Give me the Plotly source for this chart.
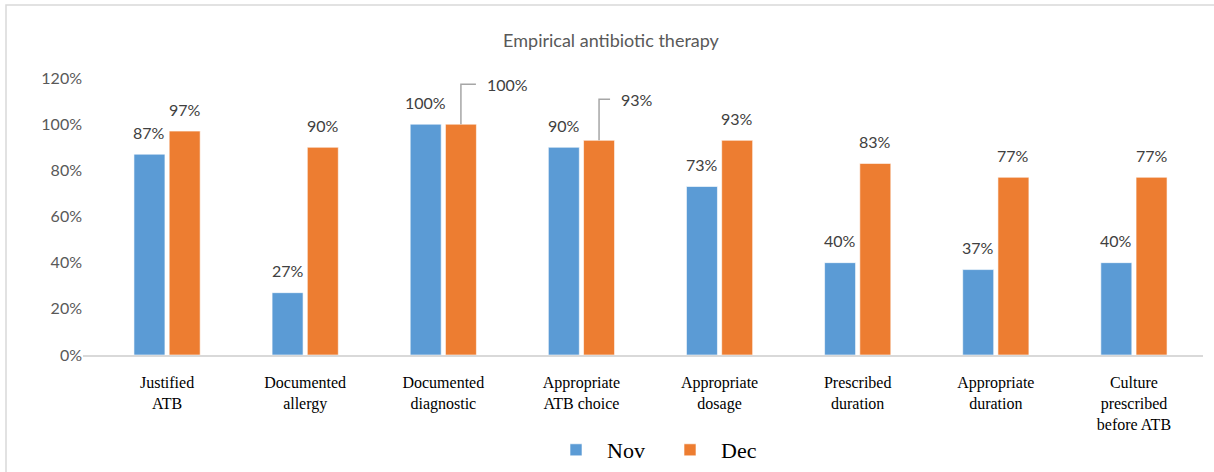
import plotly.graph_objects as go

# Audit indicators and monthly compliance rates (%)
categories = [
    "Justified<br>ATB",
    "Documented<br>allergy",
    "Documented<br>diagnostic",
    "Appropriate<br>ATB choice",
    "Appropriate<br>dosage",
    "Prescribed<br>duration",
    "Appropriate<br>duration",
    "Culture<br>prescribed<br>before ATB",
]
nov_values = [87, 27, 100, 90, 73, 40, 37, 40]
dec_values = [97, 90, 100, 93, 93, 83, 77, 77]
y_ticks = [0, 20, 40, 60, 80, 100, 120]

BLUE = "#5B9BD5"
ORANGE = "#ED7D31"
LABEL_GREY = "#404040"
AXIS_GREY = "#595959"
LINE_GREY = "#D9D9D9"

W, H = 1214, 472
M_L, M_R, M_T, M_B = 83, 11, 78, 117
PLOT_W = W - M_L - M_R
PLOT_H = H - M_T - M_B

BARGAP = 0.49
# centre offset of each bar inside its category group (2 traces)
half_slot = (1 - BARGAP) / 4

x_idx = list(range(len(categories)))

fig = go.Figure()
fig.add_trace(go.Bar(
    name="\u00a0\u00a0Nov", x=x_idx, y=[v / 100 for v in nov_values],
    marker=dict(color=BLUE, line=dict(color="rgba(255,255,255,0.6)", width=1)),
))
fig.add_trace(go.Bar(
    name="\u00a0\u00a0Dec", x=x_idx, y=[v / 100 for v in dec_values],
    marker=dict(color=ORANGE, line=dict(color="rgba(255,255,255,0.6)", width=1)),
))

annotations = []
shapes = []

# labels that sit off to the right of their bar, joined by a leader line
moved = {(2, "dec"): (24, 40), (3, "dec"): (20, 41)}

for series, vals, sign in (("nov", nov_values, -1), ("dec", dec_values, 1)):
    for i, v in enumerate(vals):
        xc = i + sign * half_slot
        key = (i, series)
        if key in moved:
            dx, dy = moved[key]
            annotations.append(dict(
                x=xc, y=v / 100, xref="x", yref="y", text=f"{v}%",
                showarrow=False, xanchor="left", yanchor="middle",
                xshift=dx, yshift=dy,
                font=dict(family="Lato", size=16, color=LABEL_GREY),
            ))
            shapes.append(dict(
                type="path", xref="x", yref="y",
                xsizemode="pixel", ysizemode="pixel",
                xanchor=xc, yanchor=v / 100,
                path=f"M 0,0 L 0,{dy} L {dx - 9},{dy}",
                line=dict(color="#A6A6A6", width=1.5),
            ))
        else:
            annotations.append(dict(
                x=xc, y=v / 100, xref="x", yref="y", text=f"{v}%",
                showarrow=False, xanchor="center", yanchor="middle",
                yshift=22,
                font=dict(family="Lato", size=16, color=LABEL_GREY),
            ))

# outer chart frame (runs off the right and bottom edges)
shapes.append(dict(
    type="rect", xref="paper", yref="paper",
    x0=(6 - M_L) / PLOT_W, x1=(W + 10 - M_L) / PLOT_W,
    y0=-(H + 10 - (M_T + PLOT_H)) / PLOT_H, y1=(M_T + PLOT_H - 5) / PLOT_H,
    line=dict(color=LINE_GREY, width=1.5), layer="below",
))

# category spacing in pixels, so the axis line starts a little left of the first group
cat_px = (1203 - 98) / 8
left_extra = (98 - M_L) / cat_px

fig.update_layout(
    width=W, height=H,
    margin=dict(l=M_L, r=M_R, t=M_T, b=M_B, autoexpand=False),
    paper_bgcolor="white", plot_bgcolor="white",
    barmode="group", bargap=BARGAP, bargroupgap=0.12,
    title=dict(
        text="Empirical antibiotic therapy",
        x=611 / W, xref="container", xanchor="center",
        y=1 - 41 / H, yref="container", yanchor="middle",
        font=dict(family="Lato", size=18, color=AXIS_GREY),
    ),
    xaxis=dict(
        tickmode="array", tickvals=x_idx, ticktext=categories,
        range=[-0.5 - left_extra, len(categories) - 0.5],
        showline=True, linecolor=LINE_GREY, linewidth=1.5,
        showgrid=False, ticks="", zeroline=False, automargin=False,
        tickfont=dict(family="Liberation Serif", size=16, color="black"),
        ticklabelstandoff=12,
    ),
    yaxis=dict(
        range=[0, 1.2], tickvals=[t / 100 for t in y_ticks],
        ticktext=[f"{t}%" for t in y_ticks], automargin=False,
        showgrid=False, zeroline=False, showline=False, ticks="",
        tickfont=dict(family="Lato", size=16, color=AXIS_GREY),
        ticklabelstandoff=0,
    ),
    legend=dict(
        orientation="h", xref="container", x=556 / W, xanchor="left",
        yref="container", y=1 - 450 / H, yanchor="middle",
        font=dict(family="Liberation Serif", size=22, color="black"),
        bgcolor="rgba(0,0,0,0)", entrywidth=69,
    ),
    annotations=annotations,
    shapes=shapes,
    showlegend=True,
)

fig.write_html("out.html")
